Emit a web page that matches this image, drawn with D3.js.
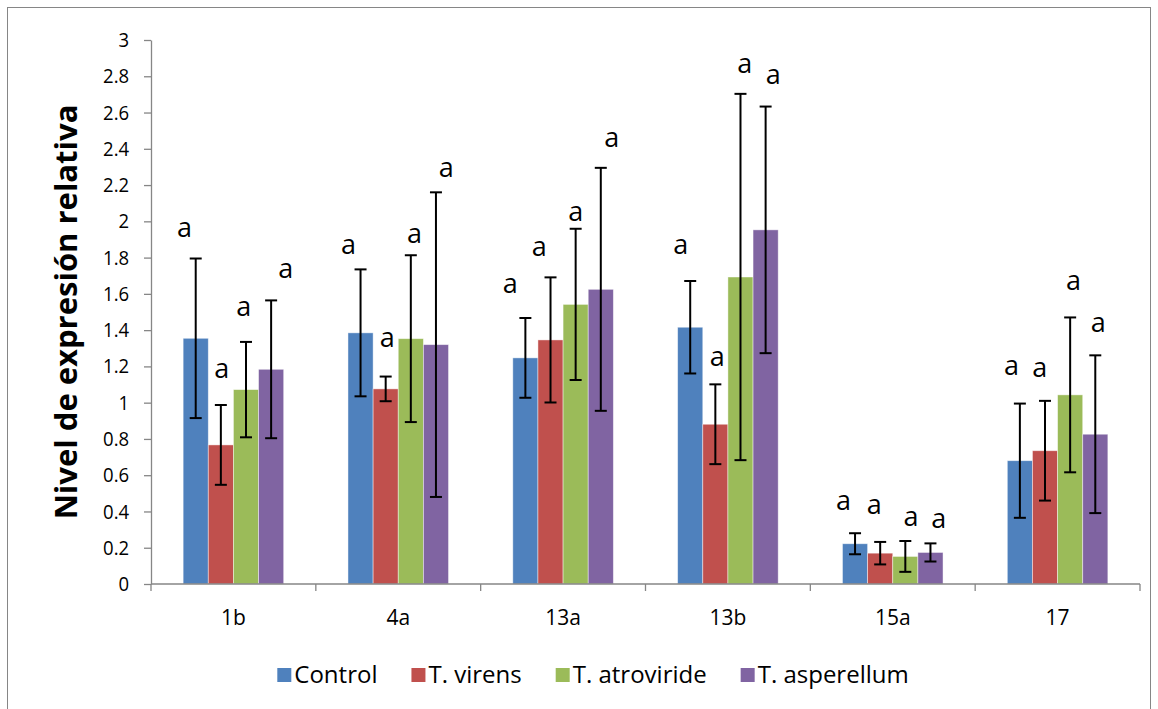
<!DOCTYPE html>
<html>
<head>
<meta charset="utf-8">
<script src="https://cdn.jsdelivr.net/npm/d3@7"></script>
<style>
  html, body { margin: 0; padding: 0; background: #fff; }
  svg { display: block; }
</style>
</head>
<body>
<script>
// Genes / primers on the x axis
const categories = ["1b", "4a", "13a", "13b", "15a", "17"];
const seriesNames = ["Control", "T. virens", "T. atroviride", "T. asperellum"];
const seriesColors = ["#4F81BD", "#C0504D", "#9BBB59", "#8064A2"];

// Mean relative expression per treatment
const controlMean    = [1.355, 1.385, 1.247, 1.416, 0.222, 0.680];
const virensMean     = [0.767, 1.076, 1.346, 0.881, 0.170, 0.735];
const atrovirideMean = [1.072, 1.353, 1.542, 1.693, 0.152, 1.043];
const asperellumMean = [1.184, 1.320, 1.625, 1.953, 0.174, 0.826];

// Error (± deviation) per treatment
const controlErr    = [0.440, 0.350, 0.220, 0.255, 0.058, 0.315];
const virensErr     = [0.220, 0.068, 0.345, 0.220, 0.062, 0.275];
const atrovirideErr = [0.263, 0.460, 0.417, 1.010, 0.085, 0.427];
const asperellumErr = [0.380, 0.840, 0.670, 0.680, 0.050, 0.435];

// Significance letters and the value level at which each one sits
const controlLetter    = ["a", "a", "a", "a", "a", "a"];
const virensLetter     = ["a", "a", "a", "a", "a", "a"];
const atrovirideLetter = ["a", "a", "a", "a", "a", "a"];
const asperellumLetter = ["a", "a", "a", "a", "a", "a"];
const controlLetterAt    = [1.916, 1.822, 1.603, 1.820, 0.409, 1.155];
const virensLetterAt     = [1.138, 1.305, 1.811, 1.201, 0.387, 1.140];
const atrovirideLetterAt = [1.480, 1.879, 2.004, 2.816, 0.322, 1.622];
const asperellumLetterAt = [1.690, 2.246, 2.408, 2.757, 0.310, 1.388];

// Y axis tick values
const yTicks = [0, 0.2, 0.4, 0.6, 0.8, 1, 1.2, 1.4, 1.6, 1.8, 2, 2.2, 2.4, 2.6, 2.8, 3];

const yTitle = "Nivel de expresión relativa";

const means   = [controlMean, virensMean, atrovirideMean, asperellumMean];
const errs    = [controlErr, virensErr, atrovirideErr, asperellumErr];
const letters = [controlLetter, virensLetter, atrovirideLetter, asperellumLetter];
const lettersAt = [controlLetterAt, virensLetterAt, atrovirideLetterAt, asperellumLetterAt];

// horizontal nudge of each letter, in bar widths (layout only)
const letterNudge = [
  [-0.45, -0.48, -0.60, -0.38, -0.46, -0.33],
  [ 0.04,  0.06, -0.45,  0.08, -0.24, -0.21],
  [-0.09,  0.15,  0.00,  0.17,  0.23,  0.13],
  [ 0.58,  0.41,  0.44,  0.30,  0.33,  0.12]
];

const W = 1158, H = 709;
const font = "'Open Sans', 'Liberation Sans', sans-serif";

const svg = d3.select("body").append("svg")
  .attr("width", W).attr("height", H);

// chart area frame
svg.append("rect")
  .attr("x", 7.5).attr("y", 7.5)
  .attr("width", 1143).attr("height", 730)
  .attr("fill", "#fff").attr("stroke", "#868686").attr("stroke-width", 1);

const x0 = d3.scaleBand().domain(categories).range([151, 1140]).padding(0);
const bw = x0.bandwidth();
const x1 = d3.scaleBand().domain(seriesNames).range([bw * 0.195, bw * 0.805]).padding(0);
const y = d3.scaleLinear().domain([0, 3]).range([584, 40]);

// Y axis
const yAxis = svg.append("g")
  .attr("transform", "translate(151,0)")
  .call(d3.axisLeft(y).tickValues(yTicks).tickSize(7).tickSizeOuter(0).tickPadding(16)
    .tickFormat(d => String(+d.toFixed(1))));
yAxis.select(".domain").attr("stroke", "#868686").attr("stroke-width", 1.3);
yAxis.selectAll(".tick line").attr("stroke", "#868686").attr("stroke-width", 1.3);
yAxis.selectAll(".tick text")
  .attr("font-family", font).attr("font-size", 19.5).attr("fill", "#000")
  .attr("transform", "scale(0.95,1.05)");

// Bars
const flat = [];
seriesNames.forEach((s, si) => {
  categories.forEach((c, ci) => {
    flat.push({ s, si, c, ci, v: means[si][ci], e: errs[si][ci],
                letter: letters[si][ci], at: lettersAt[si][ci] });
  });
});

const g = svg.append("g");
g.selectAll("rect.bar").data(flat).join("rect")
  .attr("class", "bar")
  .attr("x", d => x0(d.c) + x1(d.s))
  .attr("y", d => y(d.v))
  .attr("width", x1.bandwidth())
  .attr("height", d => y(0) - y(d.v))
  .attr("fill", d => seriesColors[d.si])
  .attr("stroke", "rgba(255,255,255,0.55)")
  .attr("stroke-width", 0.8);

// X axis line with boundary ticks
const xa = svg.append("g");
xa.append("line")
  .attr("x1", x0.range()[0]).attr("x2", x0.range()[1])
  .attr("y1", y(0)).attr("y2", y(0))
  .attr("stroke", "#868686").attr("stroke-width", 1.3);
const bounds = categories.map(c => x0(c)).concat([x0.range()[1]]);
xa.selectAll("line.tk").data(bounds).join("line")
  .attr("class", "tk")
  .attr("x1", d => d).attr("x2", d => d)
  .attr("y1", y(0)).attr("y2", y(0) + 7)
  .attr("stroke", "#868686").attr("stroke-width", 1.3);
xa.selectAll("text").data(categories).join("text")
  .attr("x", d => x0(d) + bw / 2)
  .attr("y", y(0) + 41)
  .attr("text-anchor", "middle")
  .attr("font-family", font).attr("font-size", 21).attr("fill", "#000")
  .text(d => d);

// Error bars
const cap = 6;
const eb = svg.append("g").attr("stroke", "#000").attr("stroke-width", 2);
flat.forEach(d => {
  const cx = x0(d.c) + x1(d.s) + x1.bandwidth() / 2;
  const yt = y(d.v + d.e), yb = y(d.v - d.e);
  eb.append("line").attr("x1", cx).attr("x2", cx).attr("y1", yt).attr("y2", yb);
  eb.append("line").attr("x1", cx - cap).attr("x2", cx + cap).attr("y1", yt).attr("y2", yt);
  eb.append("line").attr("x1", cx - cap).attr("x2", cx + cap).attr("y1", yb).attr("y2", yb);
});

// Significance letters
svg.append("g").selectAll("text").data(flat).join("text")
  .attr("x", d => x0(d.c) + x1(d.s) + x1.bandwidth() / 2 + letterNudge[d.si][d.ci] * x1.bandwidth())
  .attr("y", d => y(d.at))
  .attr("text-anchor", "middle")
  .attr("font-family", font).attr("font-size", 27).attr("fill", "#000")
  .text(d => d.letter);

// Y axis title
svg.append("text")
  .attr("transform", `translate(77,${(y(0) + y(3)) / 2}) rotate(-90)`)
  .attr("text-anchor", "middle")
  .attr("font-family", font).attr("font-weight", "bold").attr("font-size", 31)
  .attr("fill", "#000")
  .text(yTitle);

// Legend
const lg = svg.append("g");
const items = lg.selectAll("g").data(seriesNames).join("g");
items.append("rect")
  .attr("width", 14).attr("height", 14).attr("y", -15)
  .attr("fill", (d, i) => seriesColors[i]);
items.append("text")
  .attr("x", 17).attr("y", 0)
  .attr("font-family", font).attr("font-size", 24).attr("fill", "#000")
  .text(d => d);
let cursor = 0;
const gap = 34;
items.each(function () {
  const w = 17 + d3.select(this).select("text").node().getComputedTextLength();
  d3.select(this).attr("data-x", cursor);
  cursor += w + gap;
});
const total = cursor - gap;
const start = 593 - total / 2;
items.attr("transform", function () {
  return `translate(${start + +d3.select(this).attr("data-x")},683)`;
});
</script>
</body>
</html>
